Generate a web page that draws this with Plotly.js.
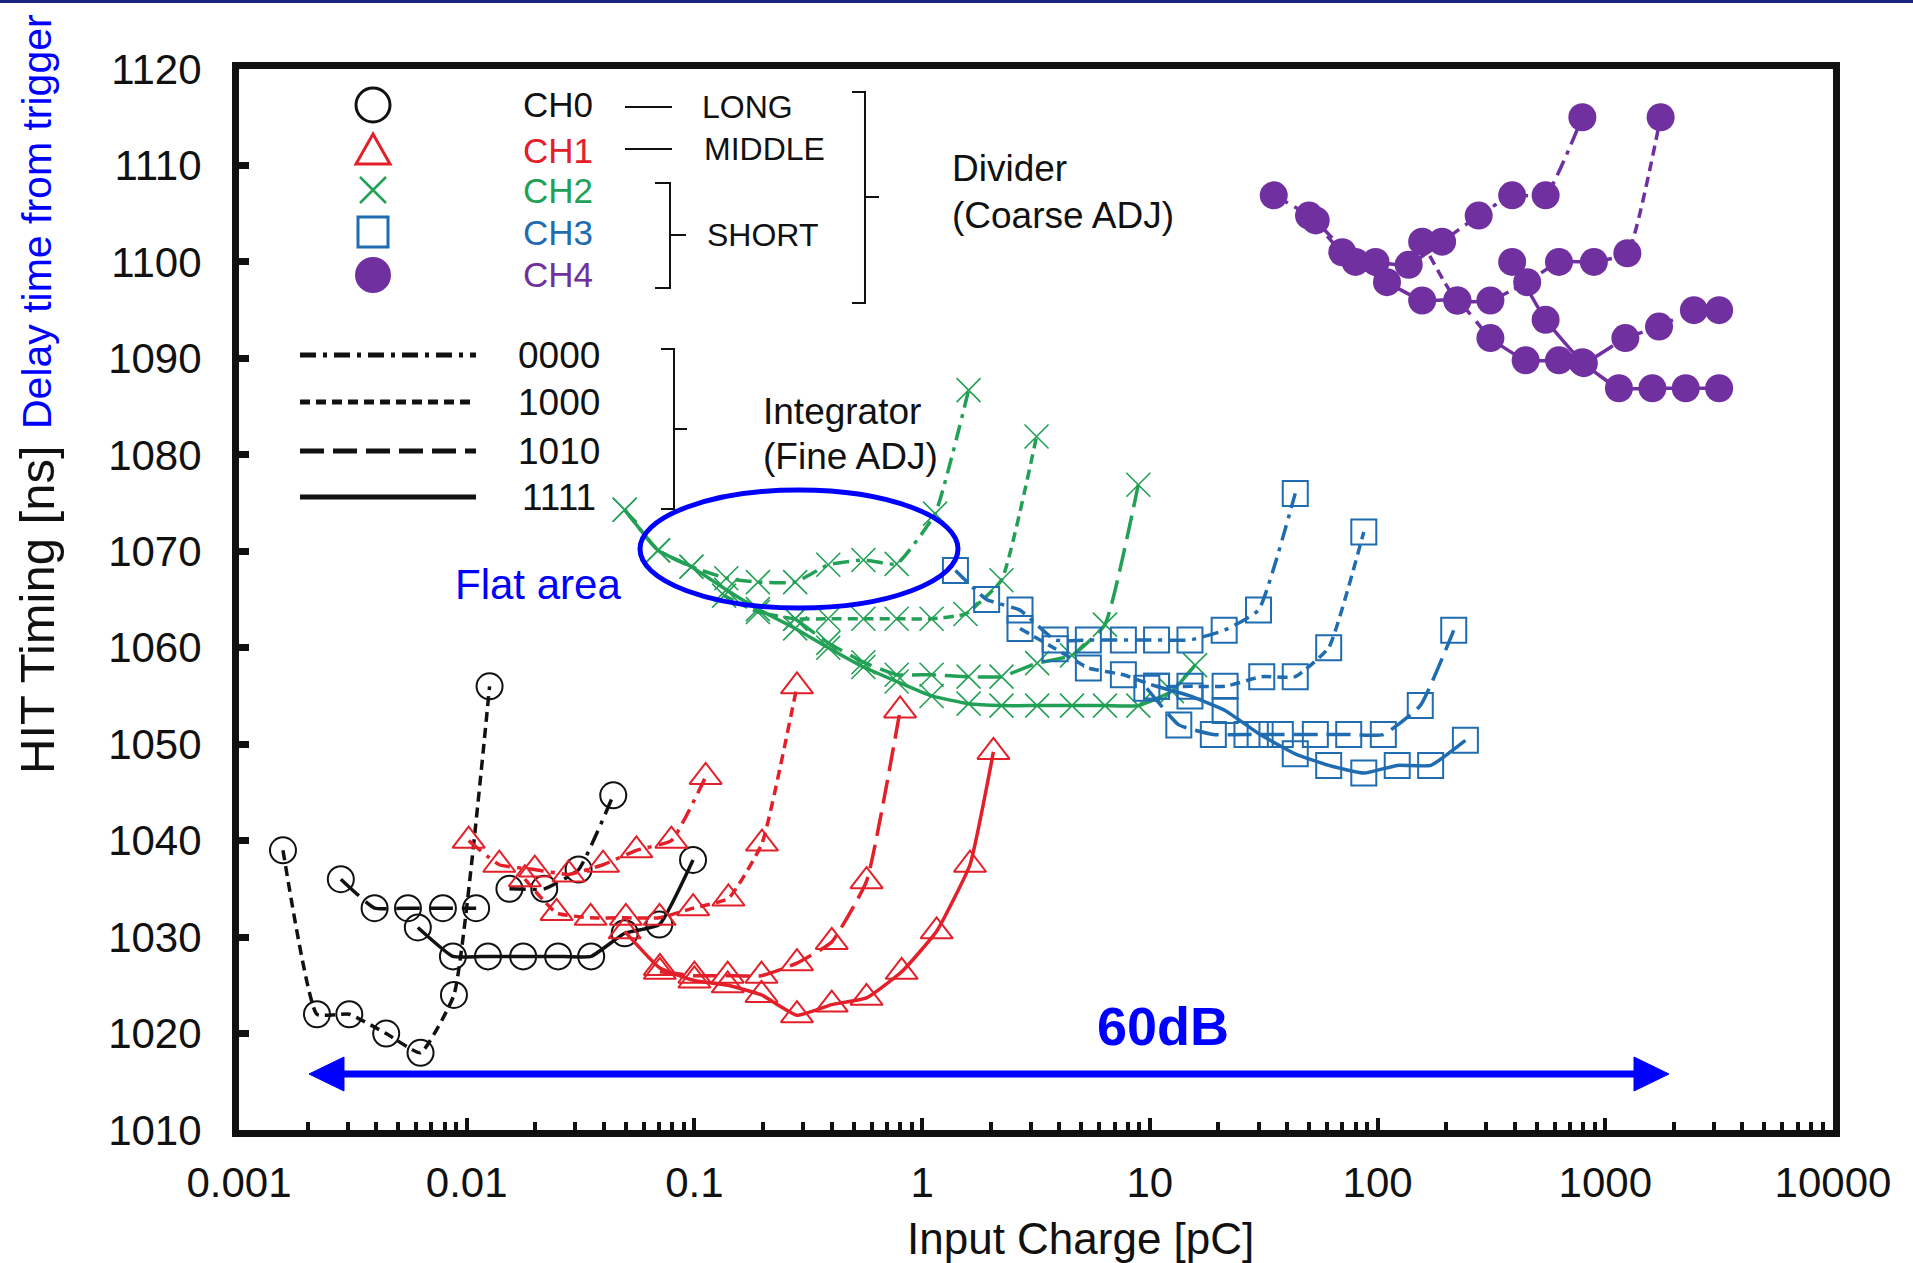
<!DOCTYPE html>
<html>
<head>
<meta charset="utf-8">
<script src="https://cdn.plot.ly/plotly-3.0.1.min.js"></script>
<style>
  html, body { margin: 0; padding: 0; background: #ffffff; }
  #chart { width: 1913px; height: 1263px; }
</style>
</head>
<body>
<div id="chart"></div>
<script>
// ---------------- measured data: HIT timing [ns] vs input charge [pC] ----------------
// Integrator settings: 0000 (dash-dot), 1000 (dash), 1010 (long dash), 1111 (solid)

// CH0 - LONG divider
const ch0_1000_x = [0.00156, 0.0022, 0.00305, 0.00443, 0.00627, 0.00879, 0.0126];
const ch0_1000_y = [1039, 1022, 1022, 1020, 1018, 1024, 1056];
const ch0_1010_x = [0.0028, 0.00394, 0.00552, 0.00786, 0.011];
const ch0_1010_y = [1036, 1033, 1033, 1033, 1033];
const ch0_1111_x = [0.0061, 0.0087, 0.0124, 0.0177, 0.0252, 0.0352, 0.0494, 0.0701, 0.0986];
const ch0_1111_y = [1031, 1028, 1028, 1028, 1028, 1028, 1030.4, 1031.3, 1038];
const ch0_0000_x = [0.0154, 0.0219, 0.031, 0.044];
const ch0_0000_y = [1035, 1035, 1037, 1044.7];

// CH1 - MIDDLE divider
const ch1_0000_x = [0.0102, 0.0139, 0.0199, 0.028, 0.0397, 0.0556, 0.0792, 0.112];
const ch1_0000_y = [1040, 1037.5, 1037, 1036.5, 1037.5, 1039, 1040, 1046.6];
const ch1_1000_x = [0.018, 0.0248, 0.035, 0.05, 0.0703, 0.0987, 0.141, 0.198, 0.282];
const ch1_1000_y = [1036, 1032.5, 1032, 1032, 1032, 1033, 1034, 1039.7, 1056];
const ch1_1010_x = [0.0705, 0.1, 0.14, 0.197, 0.282, 0.401, 0.57, 0.8];
const ch1_1010_y = [1026.4, 1026, 1026, 1026, 1027.3, 1029.5, 1035.8, 1053.5];
const ch1_1111_x = [0.0494, 0.0705, 0.1, 0.14, 0.197, 0.282, 0.401, 0.57, 0.813, 1.158, 1.622, 2.056];
const ch1_1111_y = [1030.6, 1026.8, 1025.5, 1025, 1024, 1021.9, 1023, 1023.7, 1026.4, 1030.6, 1037.5, 1049.2];

// CH2 - SHORT divider
const ch2_0000_x = [0.0494, 0.0692, 0.097, 0.138, 0.19, 0.277, 0.387, 0.552, 0.773, 1.14, 1.6];
const ch2_0000_y = [1074.3, 1070.1, 1068.4, 1067.2, 1066.8, 1066.8, 1068.6, 1069.1, 1068.7, 1073.9, 1086.7];
const ch2_1000_x = [0.135, 0.19, 0.277, 0.387, 0.552, 0.773, 1.1, 1.55, 2.23, 3.18];
const ch2_1000_y = [1065.4, 1063.7, 1063, 1063, 1063, 1063, 1063, 1063.5, 1067, 1081.9];
const ch2_1010_x = [0.277, 0.387, 0.552, 0.773, 1.1, 1.6, 2.23, 3.2, 4.55, 6.35, 8.9];
const ch2_1010_y = [1063, 1060.5, 1058.5, 1057.2, 1057.2, 1057, 1057, 1058.4, 1059.2, 1062.4, 1076.9];
const ch2_1111_x = [0.0494, 0.0692, 0.097, 0.138, 0.19, 0.277, 0.387, 0.552, 0.773, 1.1, 1.6, 2.23, 3.2, 4.55, 6.35, 8.9, 12.5, 15.8];
const ch2_1111_y = [1074.3, 1070.1, 1068.4, 1066, 1064, 1062, 1060, 1058, 1056.5, 1055, 1054.2, 1054, 1054, 1054, 1054, 1054, 1055.5, 1058.2];

// CH3 - SHORT divider
const ch3_0000_x = [1.4, 1.92, 2.69, 3.84, 5.37, 7.65, 10.7, 15, 21.2, 30, 43.5];
const ch3_0000_y = [1068, 1065, 1063.9, 1060.8, 1060.8, 1060.8, 1060.8, 1060.8, 1061.8, 1063.9, 1076];
const ch3_1000_x = [2.69, 3.84, 5.37, 7.65, 10.7, 15, 21.4, 31, 43.5, 61, 87];
const ch3_1000_y = [1062, 1059.9, 1057.9, 1057.2, 1056, 1056, 1056, 1057, 1057, 1060, 1072];
const ch3_1010_x = [9.7, 13.4, 19, 26.7, 37.4, 53.3, 74.7, 106, 154, 216];
const ch3_1010_y = [1055.8, 1052, 1051, 1051, 1051, 1051, 1051, 1051, 1054, 1061.8];
const ch3_1111_x = [10.7, 15, 21.4, 30.5, 43.5, 61, 87, 122, 171, 243];
const ch3_1111_y = [1056, 1055, 1053.5, 1051, 1049, 1047.8, 1047, 1047.8, 1047.8, 1050.4];

// CH4 - SHORT divider
const ch4_0000_x = [35, 50, 70, 98, 137, 192, 278, 390, 547, 793];
const ch4_0000_y = [1106.9, 1104.8, 1101, 1100, 1099.7, 1102.1, 1104.8, 1106.9, 1106.9, 1115];
const ch4_1000_x = [157, 224, 313, 454, 626, 891, 1250, 1750];
const ch4_1000_y = [1102.1, 1096, 1096, 1097.9, 1100, 1100, 1100.9, 1115];
const ch4_1010_x = [53.5, 80, 110, 157, 224, 313, 447, 626, 805, 1225, 1722, 2450, 3162];
const ch4_1010_y = [1104.3, 1100, 1097.9, 1096, 1096, 1092.1, 1089.8, 1089.8, 1089.5, 1092.1, 1093.3, 1095, 1095];
const ch4_1111_x = [390, 547, 793, 1148, 1610, 2256, 3162];
const ch4_1111_y = [1100, 1094, 1089.6, 1086.9, 1086.9, 1086.9, 1086.9];

// axis ticks
const xTickVals = [0.001, 0.01, 0.1, 1, 10, 100, 1000, 10000];
const xTickText = ['0.001', '0.01', '0.1', '1', '10', '100', '1000', '10000'];
const yTickVals = [1010, 1020, 1030, 1040, 1050, 1060, 1070, 1080, 1090, 1100, 1110, 1120];
const yTickText = ['1010', '1020', '1030', '1040', '1050', '1060', '1070', '1080', '1090', '1100', '1110', '1120'];

// legend / annotation texts
const channelNames = ['CH0', 'CH1', 'CH2', 'CH3', 'CH4'];
const settingNames = ['0000', '1000', '1010', '1111'];

// ---------------- styling ----------------
const FONT = 'Liberation Sans, Arial, sans-serif';
const COL = {
  ch0: '#111111',
  ch1: '#e3202a',
  ch2: '#22a055',
  ch3: '#1f6cb0',
  ch4: '#7030a0'
};
const DASH = {
  s0000: '16px,7px,4px,7px',
  s1000: '10px,6px',
  s1010: '24px,9px',
  s1111: 'solid'
};
const MARK = {
  ch0: { symbol: 'circle-open', size: 26, lw: 2 },
  ch1: { symbol: 'triangle-up-open', size: 28, lw: 2 },
  ch2: { symbol: 'x-thin-open', size: 24, lw: 1.6 },
  ch3: { symbol: 'square-open', size: 25, lw: 2 },
  ch4: { symbol: 'circle', size: 28, lw: 0 }
};

function series(xs, ys, ch, style) {
  const m = MARK[ch];
  return {
    type: 'scatter',
    mode: 'lines+markers',
    x: xs,
    y: ys,
    showlegend: false,
    hoverinfo: 'x+y',
    line: { color: COL[ch], width: 3.5, dash: DASH[style], shape: 'spline', smoothing: 0.4 },
    marker: {
      symbol: m.symbol,
      size: m.size,
      color: COL[ch],
      line: { color: COL[ch], width: m.lw }
    }
  };
}

const traces = [
  series(ch0_1000_x, ch0_1000_y, 'ch0', 's1000'),
  series(ch0_1010_x, ch0_1010_y, 'ch0', 's1010'),
  series(ch0_1111_x, ch0_1111_y, 'ch0', 's1111'),
  series(ch0_0000_x, ch0_0000_y, 'ch0', 's0000'),
  series(ch1_0000_x, ch1_0000_y, 'ch1', 's0000'),
  series(ch1_1000_x, ch1_1000_y, 'ch1', 's1000'),
  series(ch1_1010_x, ch1_1010_y, 'ch1', 's1010'),
  series(ch1_1111_x, ch1_1111_y, 'ch1', 's1111'),
  series(ch2_0000_x, ch2_0000_y, 'ch2', 's0000'),
  series(ch2_1000_x, ch2_1000_y, 'ch2', 's1000'),
  series(ch2_1010_x, ch2_1010_y, 'ch2', 's1010'),
  series(ch2_1111_x, ch2_1111_y, 'ch2', 's1111'),
  series(ch3_0000_x, ch3_0000_y, 'ch3', 's0000'),
  series(ch3_1000_x, ch3_1000_y, 'ch3', 's1000'),
  series(ch3_1010_x, ch3_1010_y, 'ch3', 's1010'),
  series(ch3_1111_x, ch3_1111_y, 'ch3', 's1111'),
  series(ch4_0000_x, ch4_0000_y, 'ch4', 's0000'),
  series(ch4_1000_x, ch4_1000_y, 'ch4', 's1000'),
  series(ch4_1010_x, ch4_1010_y, 'ch4', 's1010'),
  series(ch4_1111_x, ch4_1111_y, 'ch4', 's1111')
];

// ---------------- page geometry (pixels) -> paper coordinates ----------------
const W = 1913, H = 1263;
const L = 239, R = 1833, T = 69, B = 1130;
const PX = X => (X - L) / (R - L);
const PY = Y => (B - Y) / (B - T);
const P = (X, Y) => PX(X).toFixed(5) + ',' + PY(Y).toFixed(5);

function pline(x0, y0, x1, y1, color, width, dash) {
  return { type: 'line', xref: 'paper', yref: 'paper', x0: PX(x0), y0: PY(y0), x1: PX(x1), y1: PY(y1),
           line: { color: color, width: width, dash: dash || 'solid' } };
}
function ppath(d, color, width, fill) {
  return { type: 'path', xref: 'paper', yref: 'paper', path: d,
           line: { color: color, width: width }, fillcolor: fill || 'rgba(0,0,0,0)' };
}
function pellipse(cx, cy, rx, ry, color, width, fill) {
  return { type: 'circle', xref: 'paper', yref: 'paper',
           x0: PX(cx - rx), x1: PX(cx + rx), y0: PY(cy + ry), y1: PY(cy - ry),
           line: { color: color, width: width }, fillcolor: fill || 'rgba(0,0,0,0)' };
}
function bracket(x0, x1, yTop, yBot, yMid, xTick) {
  return ppath('M' + P(x0, yTop) + ' L' + P(x1, yTop) + ' L' + P(x1, yBot) + ' L' + P(x0, yBot) +
               ' M' + P(x1, yMid) + ' L' + P(xTick, yMid), '#111111', 2);
}

// minor ticks on the log axis (2..9 in every decade)
const xMinorVals = [];
for (let e = -3; e < 4; e++) {
  for (let k = 2; k <= 9; k++) xMinorVals.push(k * Math.pow(10, e));
}

const BLUE = '#0000ff';
const symX = 373;
const rowY = [105, 150, 190, 232, 275];
const lineRowY = [355, 402, 451, 497];

const shapes = [
  // thin navy rule along the top of the page
  pline(0, 1.5, W, 1.5, '#1a237e', 3),

  // channel marker key
  pellipse(symX, rowY[0], 17, 17, COL.ch0, 3),
  ppath('M' + P(symX - 17, rowY[1] + 14) + ' L' + P(symX + 17, rowY[1] + 14) + ' L' + P(symX, rowY[1] - 16) + ' Z', COL.ch1, 3),
  ppath('M' + P(symX - 13, rowY[2] - 13) + ' L' + P(symX + 13, rowY[2] + 13) +
        ' M' + P(symX - 13, rowY[2] + 13) + ' L' + P(symX + 13, rowY[2] - 13), COL.ch2, 2.5),
  { type: 'rect', xref: 'paper', yref: 'paper', x0: PX(symX - 15), x1: PX(symX + 15), y0: PY(rowY[3] + 15), y1: PY(rowY[3] - 15),
    line: { color: COL.ch3, width: 3 }, fillcolor: 'rgba(0,0,0,0)' },
  pellipse(symX, rowY[4], 18, 18, COL.ch4, 0, COL.ch4),

  // divider labels
  pline(625, 107, 672, 107, '#111111', 2),
  pline(625, 149, 672, 149, '#111111', 2),
  bracket(655, 670, 183, 288, 235, 686),
  bracket(852, 865, 92, 303, 197, 879),

  // integrator line-style key
  pline(300, lineRowY[0], 476, lineRowY[0], '#111111', 5, DASH.s0000),
  pline(300, lineRowY[1], 476, lineRowY[1], '#111111', 5, DASH.s1000),
  pline(300, lineRowY[2], 476, lineRowY[2], '#111111', 5, DASH.s1010),
  pline(300, lineRowY[3], 476, lineRowY[3], '#111111', 5, DASH.s1111),
  bracket(661, 674, 349, 509, 429, 687),

  // flat area highlight
  pellipse(799, 549, 159, 59, BLUE, 5),

  // 60dB span arrow
  pline(340, 1074, 1638, 1074, BLUE, 7),
  ppath('M' + P(309, 1074) + ' L' + P(344, 1057) + ' L' + P(344, 1091) + ' Z', BLUE, 1, BLUE),
  ppath('M' + P(1669, 1074) + ' L' + P(1634, 1057) + ' L' + P(1634, 1091) + ' Z', BLUE, 1, BLUE)
];

function note(text, X, Y, size, color, xanchor, extra) {
  return Object.assign({
    text: text, xref: 'paper', yref: 'paper', x: PX(X), y: PY(Y),
    xanchor: xanchor || 'left', yanchor: 'middle', showarrow: false,
    font: { family: FONT, size: size, color: color || '#111111' }
  }, extra || {});
}

const chColors = [COL.ch0, COL.ch1, COL.ch2, COL.ch3, COL.ch4];
const annotations = [];
channelNames.forEach((n, i) => annotations.push(note(n, 558, rowY[i], 35, chColors[i], 'center')));
settingNames.forEach((n, i) => annotations.push(note(n, 559, lineRowY[i], 37, '#111111', 'center')));
annotations.push(
  note('LONG', 700, 107, 32),
  note('MIDDLE', 702, 149, 32),
  note('SHORT', 705, 235, 32),
  note('Divider', 950, 169, 37),
  note('(Coarse ADJ)', 950, 216, 37),
  note('Integrator', 761, 412, 37),
  note('(Fine ADJ)', 761, 456, 37),
  note('Flat area', 453, 584, 42, BLUE),
  note('<b>60dB</b>', 1163, 1026, 54, BLUE, 'center'),
  note('Input Charge [pC]', 1080, 1238, 44, '#111111', 'center'),
  note('HIT Timing [ns]', 37, 610, 49, '#111111', 'center', { textangle: -90 }),
  note('Delay time from trigger', 37, 222, 41, BLUE, 'center', { textangle: -90 })
);

const layout = {
  width: W,
  height: H,
  margin: { l: L, r: W - R, t: T, b: H - B, pad: 0 },
  paper_bgcolor: '#ffffff',
  plot_bgcolor: '#ffffff',
  showlegend: false,
  font: { family: FONT, color: '#111111' },
  xaxis: {
    type: 'log',
    range: [-3, 4],
    tickmode: 'array',
    tickvals: xTickVals,
    ticktext: xTickText,
    ticks: 'inside',
    ticklen: 12,
    tickwidth: 4,
    tickcolor: '#111111',
    minor: { tickmode: 'array', tickvals: xMinorVals, ticks: 'inside', ticklen: 8, tickwidth: 4, tickcolor: '#111111', showgrid: false },
    ticklabelstandoff: 10,
    tickfont: { family: FONT, size: 42, color: '#111111' },
    showline: true,
    linewidth: 7,
    linecolor: '#111111',
    mirror: true,
    showgrid: false,
    zeroline: false,
    automargin: false
  },
  yaxis: {
    range: [1010, 1120],
    tickmode: 'array',
    tickvals: yTickVals,
    ticktext: yTickText,
    ticks: 'inside',
    ticklen: 10,
    tickwidth: 7,
    tickcolor: '#111111',
    ticklabelstandoff: 22,
    tickfont: { family: FONT, size: 42, color: '#111111' },
    showline: true,
    linewidth: 7,
    linecolor: '#111111',
    mirror: true,
    showgrid: false,
    zeroline: false,
    automargin: false
  },
  shapes: shapes,
  annotations: annotations
};

Plotly.newPlot('chart', traces, layout, { staticPlot: true, displayModeBar: false });
</script>
</body>
</html>
